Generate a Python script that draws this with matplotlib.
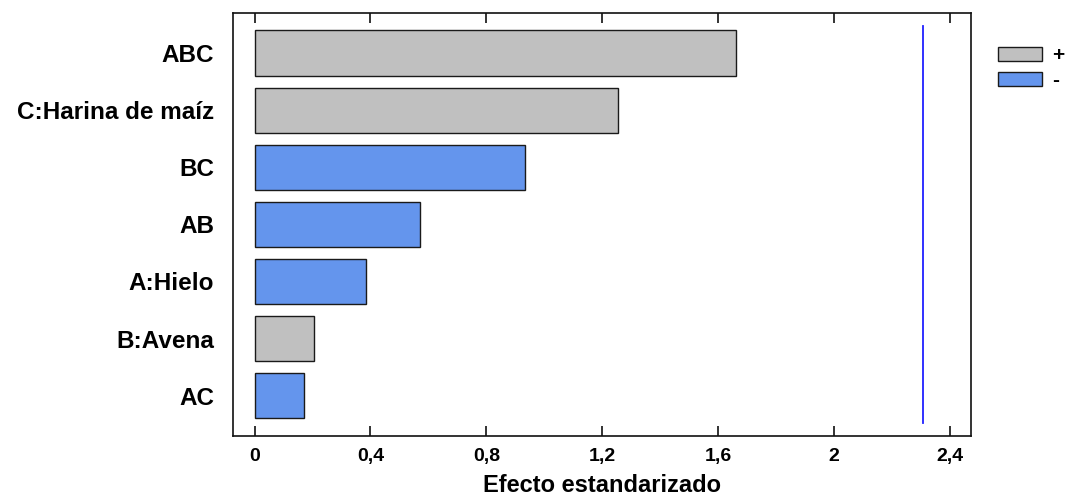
import matplotlib
matplotlib.use("Agg")
import matplotlib.pyplot as plt
from matplotlib.patches import Patch

plt.rcParams['font.family'] = ['Liberation Sans', 'DejaVu Sans']
plt.rcParams['font.weight'] = 'bold'

# standardized effects, top to bottom
terms = ["ABC", "C:Harina de maíz", "BC", "AB", "A:Hielo", "B:Avena", "AC"]
effects = [1.660, 1.256, 0.933, 0.572, 0.383, 0.205, 0.169]
signs = ["+", "+", "-", "-", "-", "+", "-"]
critical = 2.306

xticks = [0, 0.4, 0.8, 1.2, 1.6, 2.0, 2.4]
xtick_labels = ["0", "0,4", "0,8", "1,2", "1,6", "2", "2,4"]

colors = {"+": "#C0C0C0", "-": "#6495ED"}

fig = plt.figure(figsize=(10.7, 4.96), dpi=100)
ax = fig.add_axes([0.2182, 0.1216, 0.6893, 0.8522])

ypos = list(range(len(terms) - 1, -1, -1))
ax.barh(ypos, effects, height=0.79, color=[colors[s] for s in signs],
        edgecolor="#1a1a1a", linewidth=1.0)

ax.axvline(critical, ymin=0.029, ymax=0.97, color="#2020ff", linewidth=1.3)

ax.set_xlim(-0.073, 2.473)
ax.set_ylim(-0.7, 6.7)
ax.set_yticks(ypos)
ax.set_yticklabels(terms, fontsize=17.5, fontweight="bold")
ax.tick_params(axis="y", length=0, pad=14)
ax.set_xticks(xticks)
ax.set_xticklabels(xtick_labels, fontsize=14, fontweight="bold")
ax.tick_params(axis="x", direction="in", length=7, width=1.2, top=True,
               pad=9, color="#111111")
ax.set_xlabel("Efecto estandarizado", fontsize=17, fontweight="bold", labelpad=6)

for sp in ax.spines.values():
    sp.set_linewidth(1.2)
    sp.set_color("#111111")

handles = [Patch(facecolor=colors["+"], edgecolor="#1a1a1a", label="+"),
           Patch(facecolor=colors["-"], edgecolor="#1a1a1a", label="-")]
fig.legend(handles=handles, loc="upper left", bbox_to_anchor=(0.925, 0.924),
           frameon=False, handlelength=2.1, handleheight=0.67,
           labelspacing=0.3, handletextpad=0.5, borderaxespad=0,
           prop={"weight": "bold", "size": 15})

fig.savefig("out.png", dpi=100)
